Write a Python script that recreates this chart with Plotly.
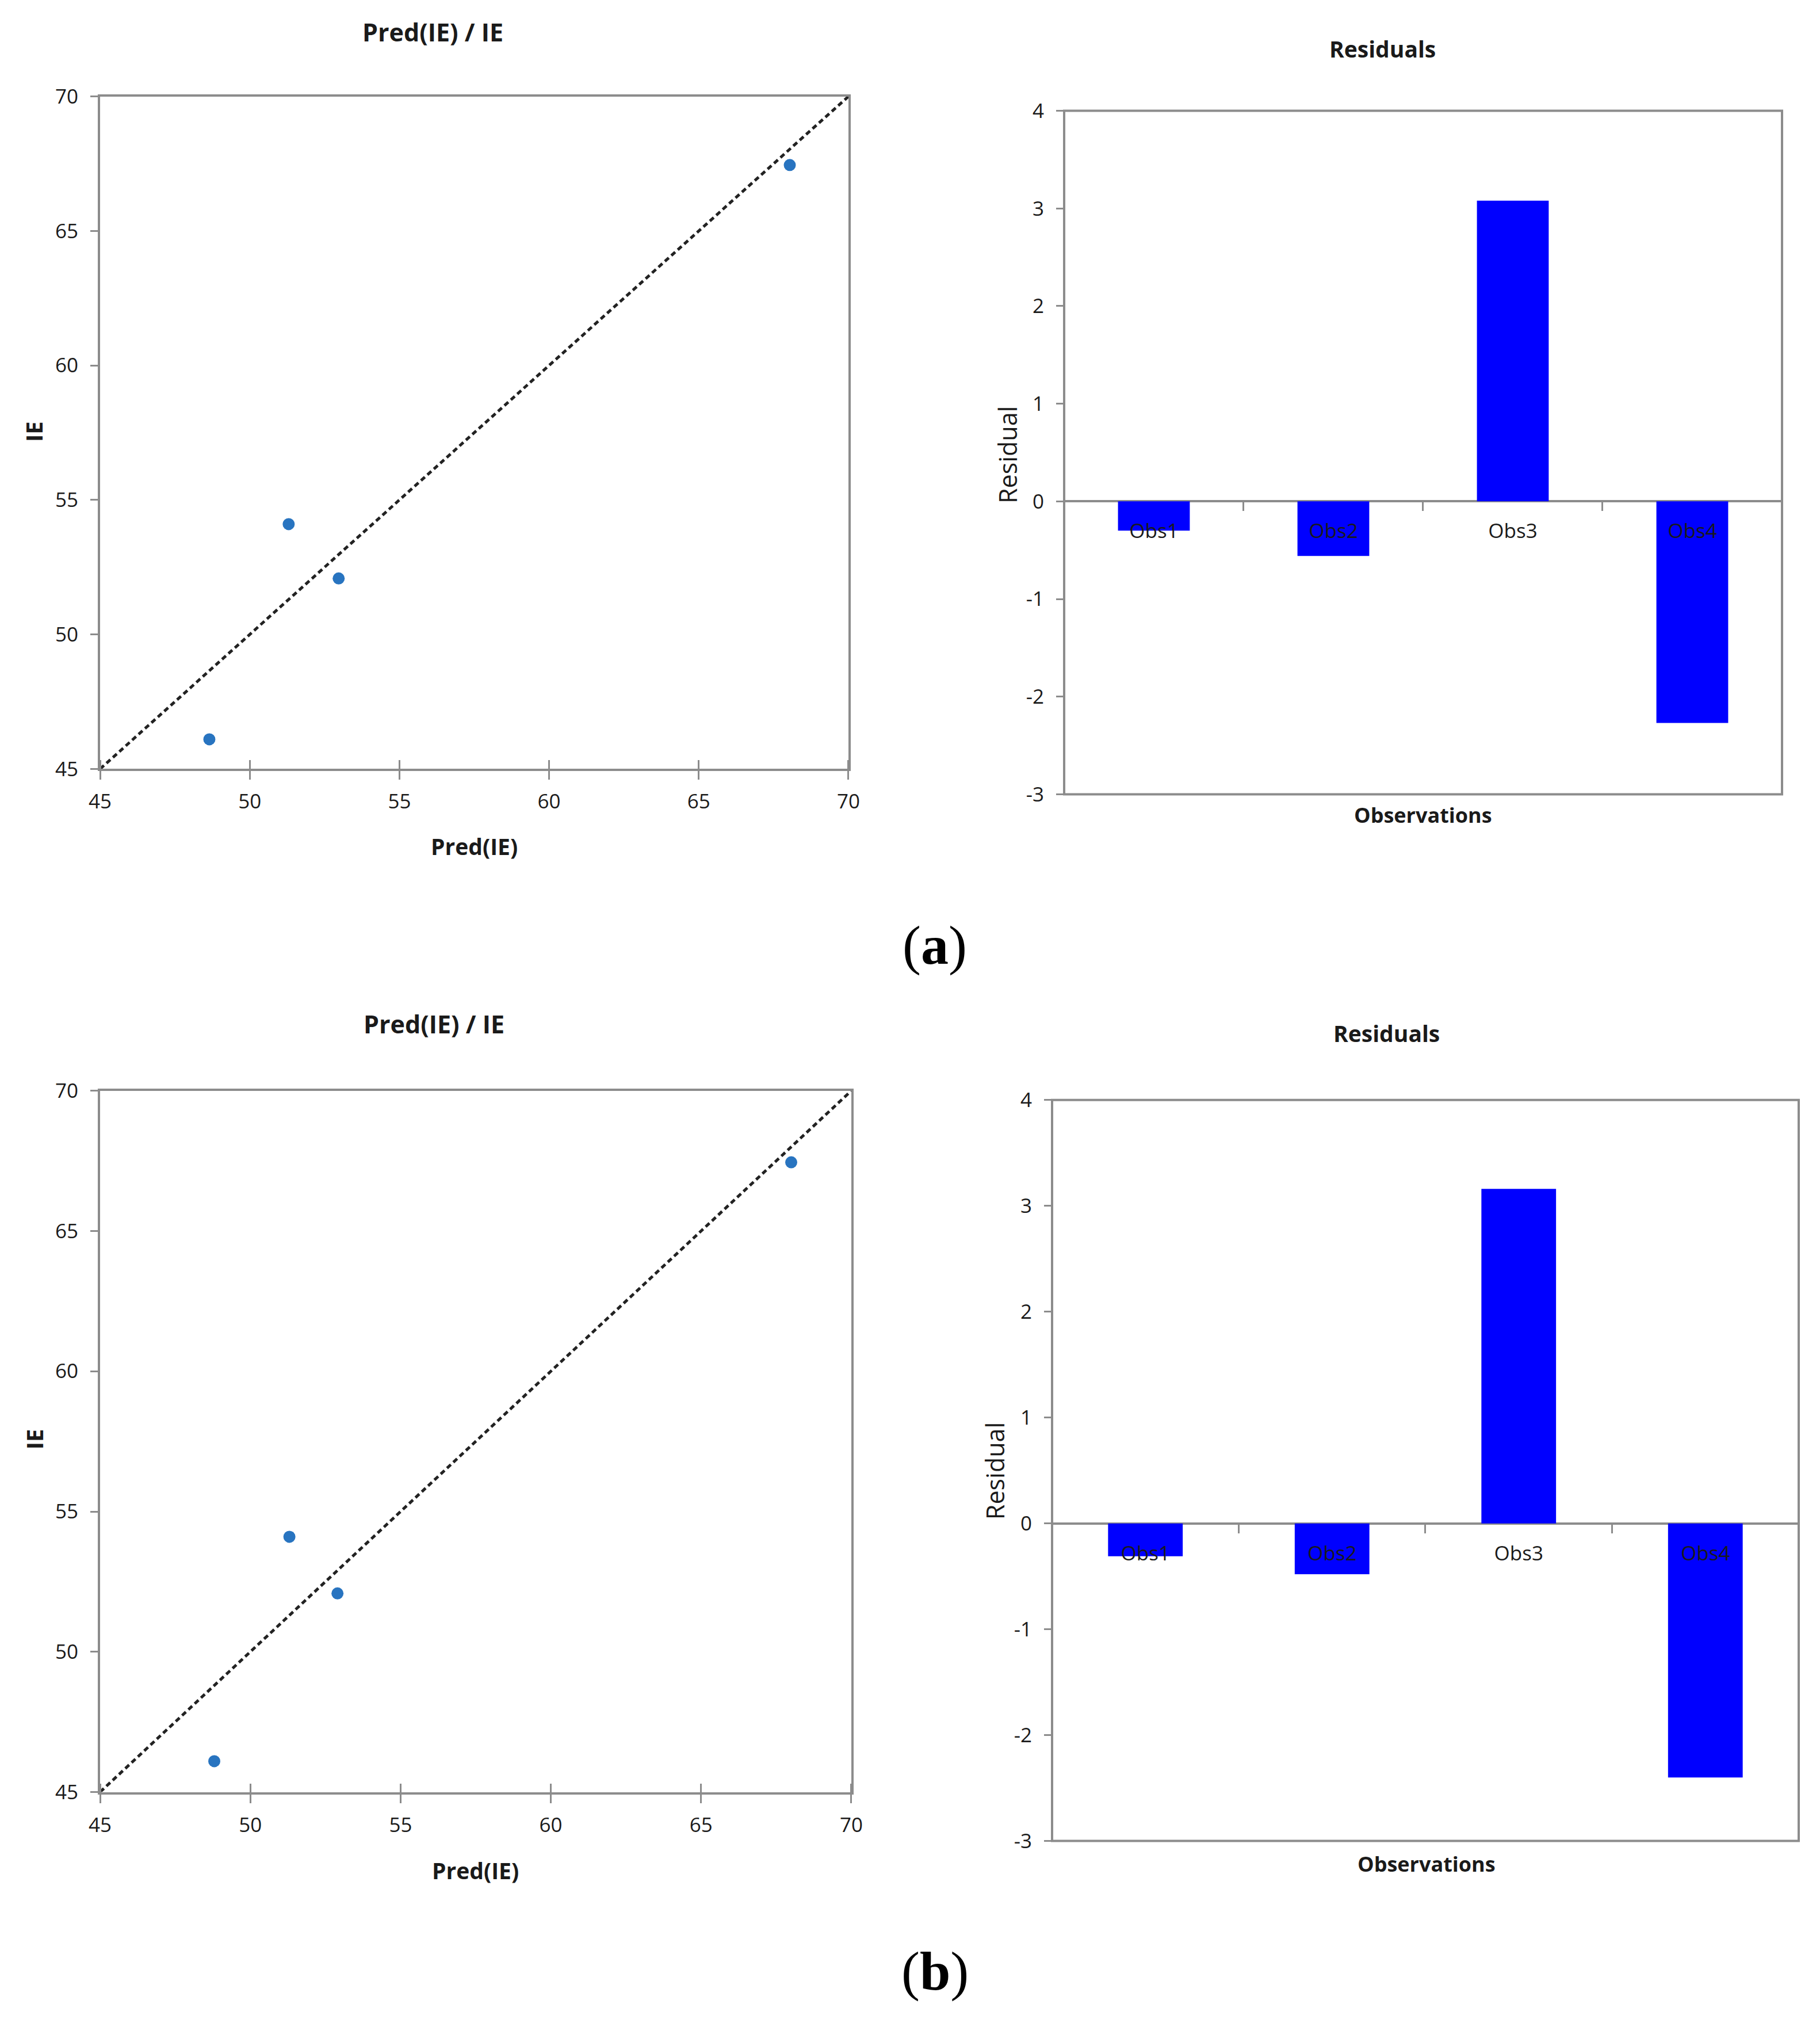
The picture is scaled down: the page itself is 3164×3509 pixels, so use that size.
import plotly.graph_objects as go

W, H = 3164, 3509
PAGE_PAD = 8  # default body margin of the html page
# measured from a framed test render: the snapshot lands slightly shrunk round its centre
SHRINK_X, SHIFT_X = 0.9873, 21.1
SHRINK_Y, SHIFT_Y = 0.9859, 25.6

# --- data ---
obs_labels = ["Obs1", "Obs2", "Obs3", "Obs4"]

pred_a = [48.65, 51.3, 52.97, 68.04]
ie_a = [46.1, 54.1, 52.08, 67.45]
resid_a = [-0.30, -0.56, 3.08, -2.27]

pred_b = [48.8, 51.3, 52.9, 68.0]
ie_b = [46.1, 54.1, 52.08, 67.45]
resid_b = [-0.31, -0.48, 3.16, -2.40]

diag = [45, 70]
ie_ticks = [45, 50, 55, 60, 65, 70]
resid_ticks = [-3, -2, -1, 0, 1, 2, 3, 4]
resid_ticktext = ["-3", "-2", "-1", "0", "1", "2", "3", "4"]

GREY = "#8c8c8c"
BLUE_PT = "#2874c0"
FONT = "Open Sans"
TXT = "#1a1a1a"

FW, FH = W - 2 * PAGE_PAD, H - 2 * PAGE_PAD


def fx(p):
    p = (p - SHIFT_X) / SHRINK_X
    return (p - PAGE_PAD) / FW


def fy(p):
    p = (p - SHIFT_Y) / SHRINK_Y
    return 1 - (p - PAGE_PAD) / FH


fig = go.Figure()

panels = [
    dict(pred=pred_a, ie=ie_a, resid=resid_a, tag="(a)",
         sbox=(175, 1476, 168, 1336), rbox=(1851, 3099, 193, 1380),
         s_title=(754, 56), s_xt=(826, 1470), s_yt=(60, 750),
         r_title=(2405, 85), r_xt=(2475, 1416), r_yt=(1752, 790),
         lab=(1626, 1642)),
    dict(pred=pred_b, ie=ie_b, resid=resid_b, tag="(b)",
         sbox=(175, 1481, 1895, 3113), rbox=(1830, 3128, 1911, 3198),
         s_title=(756, 1779), s_xt=(828, 3249), s_yt=(60, 2500),
         r_title=(2412, 1795), r_xt=(2481, 3238), r_yt=(1730, 2555),
         lab=(1627, 3424)),
]

layout = dict(
    width=FW, height=FH, autosize=False,
    margin=dict(l=0, r=0, t=0, b=0),
    paper_bgcolor="white", plot_bgcolor="white",
    showlegend=False,
    font=dict(family=FONT, size=35, color=TXT),
    annotations=[], shapes=[],
)

tick_font = dict(family=FONT, size=35, color=TXT)

for i, p in enumerate(panels):
    sref_x = "x" if i == 0 else f"x{2*i+1}"
    sref_y = "y" if i == 0 else f"y{2*i+1}"
    rx, ry = f"x{2*i+2}", f"y{2*i+2}"
    sxk = "xaxis" if i == 0 else f"xaxis{2*i+1}"
    syk = "yaxis" if i == 0 else f"yaxis{2*i+1}"
    rxk, ryk = f"xaxis{2*i+2}", f"yaxis{2*i+2}"

    # scatter: predicted vs observed with the 1:1 line
    fig.add_trace(go.Scatter(
        x=diag, y=diag, mode="lines", xaxis=sref_x, yaxis=sref_y,
        line=dict(color="#222222", width=5, dash="9px,6px"), hoverinfo="skip"))
    fig.add_trace(go.Scatter(
        x=p["pred"], y=p["ie"], mode="markers", xaxis=sref_x, yaxis=sref_y,
        marker=dict(color=BLUE_PT, size=21)))

    l, r, t, b = p["sbox"]
    layout[sxk] = dict(domain=[fx(l), fx(r)], anchor=sref_y, range=[45, 70],
                       tickvals=ie_ticks, showgrid=False, zeroline=False,
                       showline=True, mirror=True, linecolor=GREY, linewidth=4,
                       ticks="outside", ticklen=15, tickwidth=3, tickcolor=GREY,
                       minor=dict(tickvals=ie_ticks, ticks="inside", ticklen=15,
                                  tickwidth=3, tickcolor=GREY, showgrid=False),
                       tickfont=tick_font, ticklabelstandoff=8)
    layout[syk] = dict(domain=[fy(b), fy(t)], anchor=sref_x, range=[45, 70],
                       tickvals=ie_ticks, showgrid=False, zeroline=False,
                       showline=True, mirror=True, linecolor=GREY, linewidth=4,
                       ticks="outside", ticklen=13, tickwidth=3, tickcolor=GREY,
                       tickfont=tick_font, ticklabelstandoff=14)

    # residual bars
    fig.add_trace(go.Bar(
        x=obs_labels, y=p["resid"], xaxis=rx, yaxis=ry, width=0.4,
        marker=dict(color="#0000ff", line=dict(width=0))))

    l, r, t, b = p["rbox"]
    ydom = [fy(b), fy(t)]
    zero_pos = ydom[0] + (0 - resid_ticks[0]) / (resid_ticks[-1] - resid_ticks[0]) * (ydom[1] - ydom[0])
    layout[rxk] = dict(domain=[fx(l), fx(r)], anchor="free", position=zero_pos,
                       type="category", showgrid=False, zeroline=False, showline=False,
                       ticks="outside", tickson="boundaries", ticklen=16, tickwidth=3,
                       tickcolor=GREY, tickfont=tick_font, ticklabelstandoff=28)
    layout[ryk] = dict(domain=ydom, anchor=rx, range=[resid_ticks[0], resid_ticks[-1]],
                       tickvals=resid_ticks, ticktext=resid_ticktext,
                       showgrid=False, showline=False,
                       zeroline=True, zerolinecolor=GREY, zerolinewidth=4,
                       ticks="outside", ticklen=13, tickwidth=3, tickcolor=GREY,
                       tickfont=tick_font, ticklabelstandoff=14)
    layout["shapes"].append(dict(type="rect", xref=f"{rx} domain", yref=f"{ry} domain",
                                 x0=0, x1=1, y0=0, y1=1,
                                 line=dict(color=GREY, width=4), layer="above"))

    bold = dict(family=FONT, size=43, color=TXT, weight="bold")
    texts = [
        ("Pred(IE) / IE", p["s_title"], 0, bold),
        ("Pred(IE)", p["s_xt"], 0, dict(bold, size=39)),
        ("IE", p["s_yt"], -90, dict(bold, size=40)),
        ("Residuals", p["r_title"], 0, dict(bold, size=39)),
        ("Observations", p["r_xt"], 0, dict(bold, size=36)),
        ("Residual", p["r_yt"], -90, dict(family=FONT, size=43, color=TXT)),
        (p["tag"].replace("a", "<b>a</b>").replace("b)", "<b>b</b>)"), p["lab"], 0,
         dict(family="Liberation Serif", size=96, color="black")),
    ]
    for txt, (tx, ty), ang, fnt in texts:
        layout["annotations"].append(dict(
            text=txt, x=fx(tx), y=fy(ty), xref="paper", yref="paper",
            xanchor="center", yanchor="middle", showarrow=False,
            textangle=ang, font=fnt))

fig.update_layout(**layout)
fig.write_html("out.html")
